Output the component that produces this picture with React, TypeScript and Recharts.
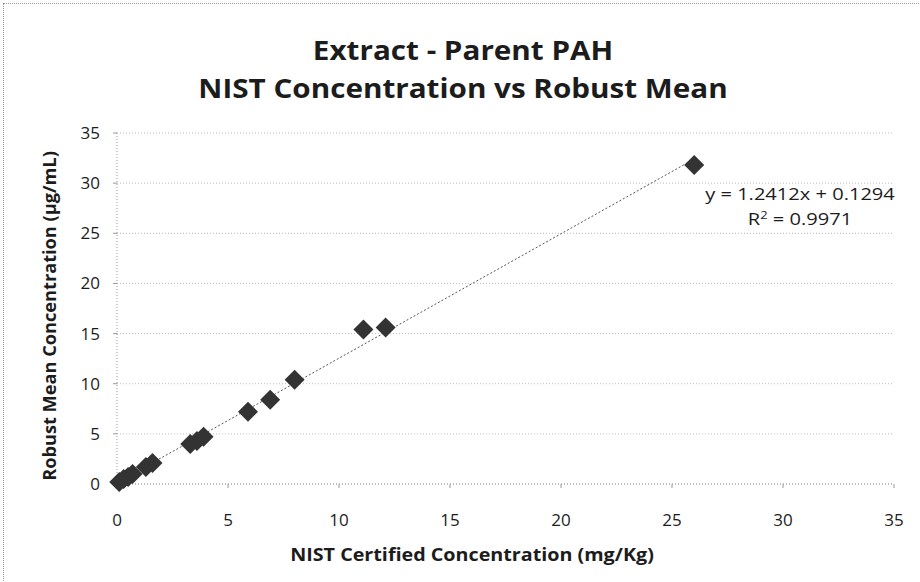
import {
    ReferenceLine,
    Scatter,
    ScatterChart,
    CartesianGrid,
    XAxis,
    YAxis,
} from 'recharts';

// NIST certified concentration (mg/Kg) vs robust mean (µg/mL)
const nistX = [0.1, 0.3, 0.5, 0.7, 1.3, 1.6, 3.3, 3.6, 3.9, 5.9, 6.9, 8.0, 11.1, 12.1, 26.0];
const robustY = [0.2, 0.5, 0.7, 1.0, 1.7, 2.1, 4.0, 4.3, 4.7, 7.2, 8.4, 10.4, 15.4, 15.6, 31.8];

const axisTicks = [0, 5, 10, 15, 20, 25, 30, 35];

const slope = 1.2412;
const intercept = 0.1294;
const trendEnd = 26.1;

const points = nistX.map((x, i) => ({ x, y: robustY[i] }));

const textColor = '#1c1c1c';
const font = '"Open Sans", sans-serif';

const Diamond = (props: any) => {
    const { cx, cy } = props;
    const r = 10;
    return (
        <polygon
            points={`${cx},${cy - r} ${cx + r},${cy} ${cx},${cy + r} ${cx - r},${cy}`}
            fill="#333"
        />
    );
};

export default function App() {
    return (
        <div
            style={{
                position: 'absolute',
                left: 0,
                top: 0,
                width: 920,
                height: 582,
                background: '#fff',
                fontFamily: font,
                color: textColor,
            }}
        >
            <div
                style={{
                    position: 'absolute',
                    left: 3,
                    top: 3,
                    width: 917,
                    height: 579,
                    borderTop: '1px dotted #999',
                    borderLeft: '1px dotted #999',
                }}
            />
            <div
                style={{
                    position: 'absolute',
                    left: 163,
                    width: 600,
                    top: 31,
                    textAlign: 'center',
                    fontWeight: 700,
                    fontSize: 26,
                    lineHeight: '38px',
                    transform: 'scaleX(1.14)',
                }}
            >
                <div>Extract - Parent PAH</div>
                <div>NIST Concentration vs Robust Mean</div>
            </div>
            <ScatterChart
                width={920}
                height={582}
                margin={{ top: 133, right: 26, left: 0, bottom: 38 }}
            >
                <CartesianGrid
                    vertical={false}
                    stroke="#bdbdbd"
                    strokeDasharray="1 2"
                />
                <XAxis
                    type="number"
                    dataKey="x"
                    domain={[0, 35]}
                    ticks={axisTicks}
                    height={60}
                    tickSize={4}
                    tickMargin={26}
                    axisLine={{ stroke: '#999', strokeDasharray: '1 2' }}
                    tickLine={{ stroke: '#999' }}
                    tick={{ fill: textColor, fontSize: 17, fontFamily: font }}
                />
                <YAxis
                    type="number"
                    dataKey="y"
                    domain={[0, 35]}
                    ticks={axisTicks}
                    width={117}
                    tickSize={4}
                    tickMargin={13}
                    axisLine={{ stroke: '#999', strokeDasharray: '1 2' }}
                    tickLine={{ stroke: '#999' }}
                    tick={{ fill: textColor, fontSize: 17, fontFamily: font }}
                />
                <ReferenceLine
                    segment={[
                        { x: 0, y: intercept },
                        { x: trendEnd, y: slope * trendEnd + intercept },
                    ]}
                    stroke="#555"
                    strokeDasharray="2 2"
                    strokeWidth={1}
                />
                <Scatter
                    data={points}
                    shape={Diamond}
                    isAnimationActive={false}
                />
            </ScatterChart>
            <div
                style={{
                    position: 'absolute',
                    left: 700,
                    width: 200,
                    top: 181,
                    textAlign: 'center',
                    fontSize: 17,
                    lineHeight: '25px',
                    transform: 'scaleX(1.18)',
                }}
            >
                <div>y = {slope}x + {intercept}</div>
                <div>
                    R<sup style={{ fontSize: 11, verticalAlign: 'top', lineHeight: '18px' }}>2</sup> = 0.9971
                </div>
            </div>
            <div
                style={{
                    position: 'absolute',
                    left: 272,
                    width: 400,
                    top: 543,
                    textAlign: 'center',
                    fontSize: 17,
                    fontWeight: 700,
                    transform: 'scaleX(1.16)',
                }}
            >
                NIST Certified Concentration (mg/Kg)
            </div>
            <div
                style={{
                    position: 'absolute',
                    left: 50 - 200,
                    top: 316 - 12,
                    width: 400,
                    textAlign: 'center',
                    fontSize: 17,
                    fontWeight: 700,
                    transform: 'rotate(-90deg) scaleX(1.07)',
                    transformOrigin: '200px 12px',
                }}
            >
                Robust Mean Concentration (µg/mL)
            </div>
        </div>
    );
}
